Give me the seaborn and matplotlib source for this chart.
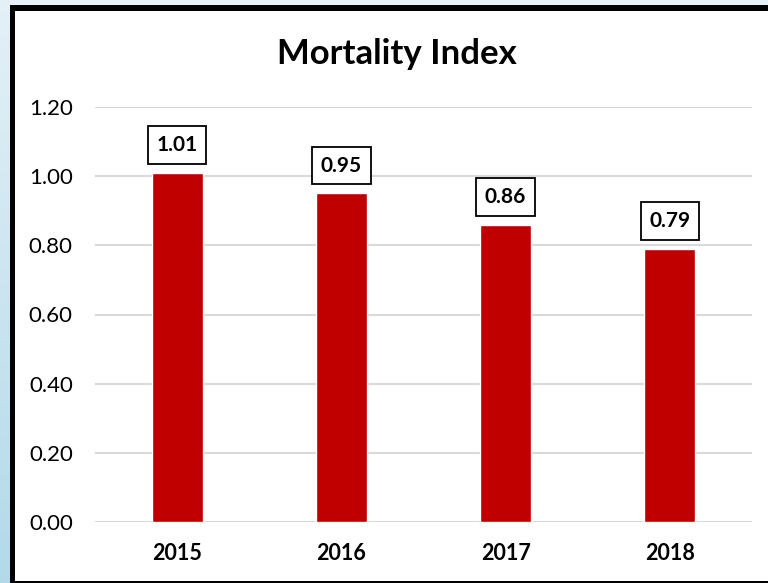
import numpy as np
import pandas as pd
import matplotlib
matplotlib.use("Agg")
import matplotlib.pyplot as plt
from matplotlib.patches import Rectangle
from matplotlib.colors import LinearSegmentedColormap
import seaborn as sns

years = ["2015", "2016", "2017", "2018"]
mortality = [1.01, 0.95, 0.86, 0.79]
value_labels = ["1.01", "0.95", "0.86", "0.79"]
y_ticks = [0.0, 0.2, 0.4, 0.6, 0.8, 1.0, 1.2]
y_tick_labels = ["0.00", "0.20", "0.40", "0.60", "0.80", "1.00", "1.20"]
chart_title = "Mortality Index"

sns.set_theme(style="white")
plt.rcParams["font.family"] = ["Lato", "DejaVu Sans"]

W, H = 768, 583
fig = plt.figure(figsize=(W / 100, H / 100), dpi=100)


def fx(px):
    return px / W


def fy(py):
    return (H - py) / H


# slide backdrop: soft blue vertical gradient
bg = fig.add_axes([0, 0, 1, 1], zorder=-10)
cmap = LinearSegmentedColormap.from_list("bgblue", ["#e4f1f7", "#b3d9e9"])
grad = np.linspace(0, 1, 256).reshape(-1, 1)
bg.imshow(grad, aspect="auto", cmap=cmap, extent=[0, 1, 0, 1], origin="upper")
bg.set_axis_off()

# chart frame: black border with white panel
fig.patches.append(Rectangle((fx(10), fy(583)), fx(W - 10) + 0.01, 1.0,
                             transform=fig.transFigure, facecolor="black",
                             edgecolor="none", zorder=-5))
fig.patches.append(Rectangle((fx(15), fy(581)), fx(W - 15) + 0.01, (581 - 11) / H,
                             transform=fig.transFigure, facecolor="white",
                             edgecolor="none", zorder=-4))
# keep only the band at y=5..11 of the frame's top edge
fig.patches.append(Rectangle((fx(10), fy(5)), 1.0, 5 / H + 0.01,
                             transform=fig.transFigure, facecolor="#e4f1f7",
                             edgecolor="none", zorder=-3))

ax = fig.add_axes([fx(95), fy(522), fx(752 - 95), (522 - 107) / H])
ax.set_facecolor("none")

df = pd.DataFrame({"year": years, "value": mortality})
sns.barplot(data=df, x="year", y="value", color="#c00000", width=0.31,
            saturation=1, ax=ax, zorder=3)

ax.set_ylim(0, 1.2)
ax.set_xlim(-0.5, len(years) - 0.5)
ax.set_yticks(y_ticks)
ax.set_yticklabels(y_tick_labels)
ax.yaxis.grid(True, color="#d9d9d9", linewidth=1.5, zorder=0)
ax.xaxis.grid(False)
ax.set_axisbelow(True)
for s in ax.spines.values():
    s.set_visible(False)
ax.tick_params(axis="y", length=0, pad=16, labelsize=16, labelcolor="black")
ax.tick_params(axis="x", length=0, pad=15, labelsize=15.5, labelcolor="black")
for lbl in ax.get_xticklabels():
    lbl.set_fontweight("bold")
ax.set_xlabel("")
ax.set_ylabel("")

for i, (v, t) in enumerate(zip(mortality, value_labels)):
    ax.annotate(t, xy=(i, v), xytext=(0, 20), textcoords="offset points",
                ha="center", va="center", fontsize=15, fontweight="bold",
                color="black", zorder=5,
                bbox=dict(boxstyle="square,pad=0.42", facecolor="white",
                          edgecolor="black", linewidth=1.3))

fig.text(fx(397), fy(54), chart_title, ha="center", va="center",
         fontsize=25, fontweight="bold", color="black")

fig.savefig("out.png", dpi=100)
